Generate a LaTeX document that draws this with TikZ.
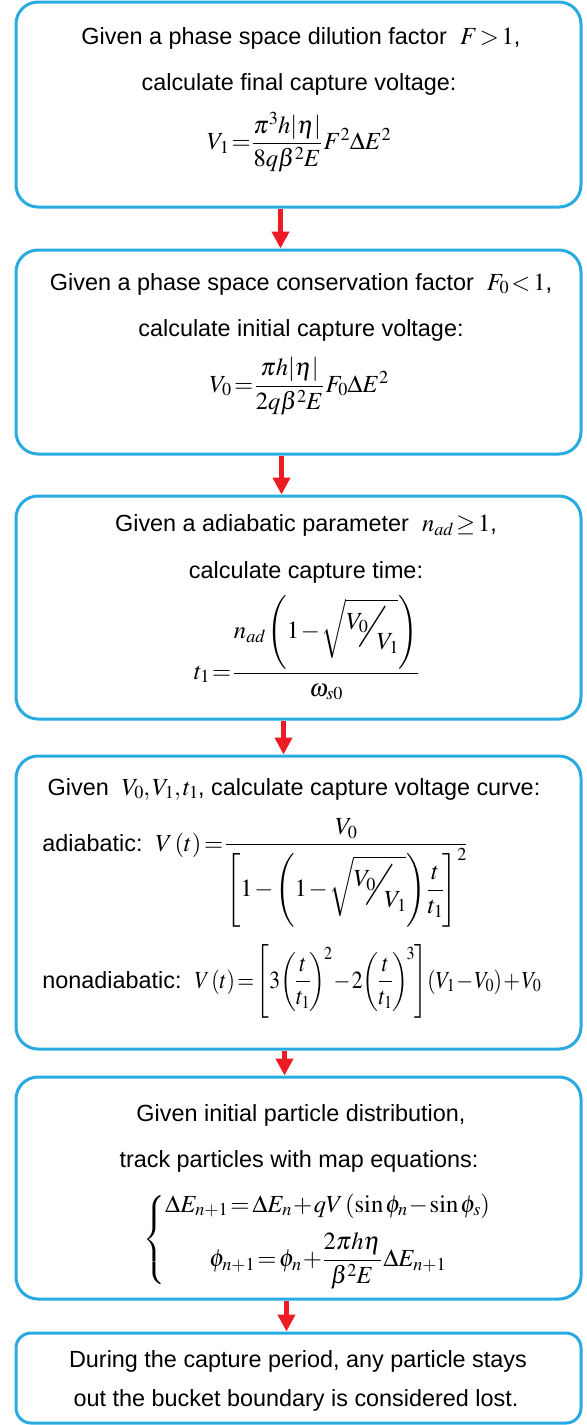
\documentclass[tikz,border=0pt]{standalone}
\usepackage{mathptmx}
\usepackage{amsmath}
\usepackage{amssymb}
\usepackage[no-math]{fontspec}
\setmainfont{Liberation Sans}
\usetikzlibrary{arrows.meta}
\definecolor{boxblue}{RGB}{41,170,225}
\definecolor{arrred}{RGB}{237,28,36}
\thickmuskip=2mu plus 1mu
\medmuskip=1.2mu
\thinmuskip=1.5mu
\nulldelimiterspace=0pt
\scriptspace=0pt
\newcommand{\slf}[2]{\raisebox{0.75ex}{$#1$}\kern-0.35em\scalebox{1.25}[1.9]{$\diagup$}\kern-0.4em\raisebox{-0.85ex}{$#2$}}
\newcommand{\mth}[1]{{\fontsize{12.3}{15}\selectfont$#1$}}
\tikzset{
  box/.style={draw=boxblue, line width=1.5pt, rounded corners=11pt, minimum width=282.5pt, inner sep=0pt},
  txt/.style={font=\fontsize{11.7}{14}\selectfont, inner sep=0pt, anchor=base},
  eq/.style={font=\fontsize{12.3}{15}\selectfont, inner sep=0pt},
  arr/.style={draw=arrred, line width=2.5pt, -{Triangle[width=8.5pt,length=8.5pt]}}
}
\begin{document}
\begin{tikzpicture}[x=0.5pt,y=-0.5pt]
\useasboundingbox (0,0) rectangle (587,1425);
% boxes
\node[box, minimum height=102.5pt] (b1) at (298.5,104.5) {};
\node[box, minimum height=102pt] (b2) at (298.5,352) {};
\node[box, minimum height=111.5pt] (b3) at (298.5,607.5) {};
\node[box, minimum height=146.5pt] (b4) at (298.5,902.5) {};
\node[box, minimum height=111pt] (b5) at (298.5,1188) {};
\node[box, minimum height=45pt, rounded corners=7.5pt] (b6) at (298.5,1378) {};
% box 1
\node[txt] (t1a) at (301,44) {Given a phase space dilution factor~~\mth{F>1},};
\node[txt] (t1b) at (299,90) {calculate final capture voltage:};
\node[eq] (e1) at (299,142) {$V_1=\dfrac{\pi^3h|\eta|}{8q\beta^2E}\;F^2\Delta E^2$};
% box 2
\node[txt] (t2a) at (301,290) {Given a phase space conservation factor~~\mth{F_0<1},};
\node[txt] (t2b) at (301,336) {calculate initial capture voltage:};
\node[eq] (e2) at (299,386) {$V_0=\dfrac{\pi h|\eta|}{2q\beta^2E}\;F_0\Delta E^2$};
% box 3
\node[txt] (t3a) at (306,531) {Given a adiabatic parameter~~\mth{n_{ad}\ge 1},};
\node[txt] (t3b) at (306,578) {calculate capture time:};
\node[eq] (e3) at (306,648) {$t_1=\dfrac{n_{ad}\left(1-\sqrt{\slf{V_0}{V_1}}\right)}{\omega_{s0}}$};
% box 4
\node[txt] (t4a) at (294,795) {Given~~\mth{V_0,V_1,t_1}, calculate capture voltage curve:};
\node[txt, anchor=base west] (t4b) at (42,851) {adiabatic:~~\mth{V\left(t\right)=\dfrac{V_0}{\left[1-\left(1-\sqrt{\slf{V_0}{V_1}}\right)\dfrac{t}{t_1}\right]^2}}};
\node[txt, anchor=base west] (t4c) at (42,988) {nonadiabatic:~~\scalebox{0.88}[1]{\mth{V\left(t\right)=\left[3\!\left(\dfrac{t}{t_1}\right)^{\!2}-2\!\left(\dfrac{t}{t_1}\right)^{\!3}\right]\!\left(V_1-V_0\right)+V_0}}};
% box 5
\node[txt] (t5a) at (301,1121) {Given initial particle distribution,};
\node[txt] (t5b) at (299,1167) {track particles with map equations:};
\node[eq, anchor=west] (e5) at (143,1240) {$\left\{\begin{array}{@{}c@{}}\Delta E_{n+1}=\Delta E_n+qV\left(\sin\phi_n-\sin\phi_s\right)\\[6pt] \phi_{n+1}=\phi_n+\dfrac{2\pi h\eta}{\beta^2E}\;\Delta E_{n+1}\end{array}\right.$};
% box 6
\node[txt] (t6a) at (298,1367) {During the capture period, any particle stays};
\node[txt] (t6b) at (296,1406) {out the bucket boundary is considered lost.};
% arrows
\draw[arr] ([xshift=-9pt]b1.south) -- ([xshift=-9pt]b2.north);
\draw[arr] ([xshift=-8.5pt]b2.south) -- ([xshift=-8.5pt]b3.north);
\draw[arr] ([xshift=-7.5pt]b3.south) -- ([xshift=-7.5pt]b4.north);
\draw[arr] ([xshift=-7pt]b4.south) -- ([xshift=-7pt]b5.north);
\draw[arr] ([xshift=-6pt]b5.south) -- ([xshift=-6pt]b6.north);
\end{tikzpicture}
\end{document}
